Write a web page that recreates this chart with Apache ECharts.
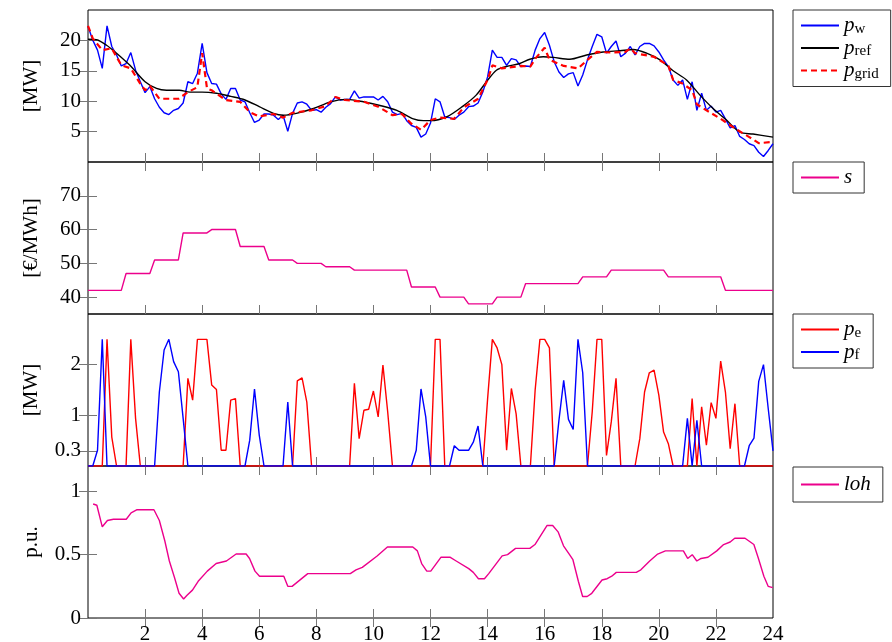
<!DOCTYPE html>
<html><head><meta charset="utf-8">
<script src="https://cdn.jsdelivr.net/npm/echarts@6/dist/echarts.min.js"></script>
<style>html,body{margin:0;padding:0;background:#fff}#c{width:892px;height:642px}</style>
</head><body><div id="c"></div>
<script>
// ---------- data ----------
const xTickLabels = [2,4,6,8,10,12,14,16,18,20,22,24];
// 10-minute grid values (t = i/6 h, i = 0..144)
const pw = [22.3,20.05,18.4,15.4,22.4,19.0,17.6,15.8,16.2,18.0,
 15.1,13.2,11.4,12.4,10.4,9.0,8.1,7.8,8.5,8.8,
 9.7,13.2,12.9,14.6,19.5,14.7,12.9,12.8,11.2,10.3,
 12.1,12.1,10.2,9.9,8.1,6.5,6.9,7.9,7.9,7.7,
 7.0,7.7,5.05,8.0,9.7,9.9,9.5,8.5,8.6,8.2,
 9.0,9.6,10.7,10.2,10.3,10.3,11.7,10.5,10.7,10.7,
 10.7,10.2,10.8,9.9,8.2,7.8,8.0,6.8,6.0,5.7,
 4.1,4.6,6.4,10.4,9.9,7.4,7.3,7.0,7.7,8.2,
 9.1,9.2,9.7,11.5,14.0,18.4,17.2,17.2,15.9,17.0,
 16.8,15.7,15.8,15.7,18.4,20.3,21.3,19.2,16.5,14.8,
 13.9,14.5,14.7,12.5,14.3,16.8,19.0,21.0,20.6,17.9,
 19.0,19.9,17.3,17.9,19.0,17.6,19.0,19.5,19.5,19.1,
 18.1,16.8,15.7,13.5,12.6,13.5,10.3,13.2,8.5,11.3,
 8.5,9.2,8.2,8.5,7.1,5.6,6.0,4.2,3.7,3.0,
 2.7,1.6,0.9,1.9,3.0];
const prefT = [0,0.3,0.65,1.0,1.47,2.0,2.4,2.75,3.2,3.57,4.0,4.5,5.0,5.5,6.0,6.5,6.85,7.3,7.9,8.5,9.07,9.65,10.23,10.82,11.4,11.75,12.0,12.56,13.14,13.6,13.96,14.31,14.66,15.13,15.48,15.95,16.3,16.88,17.47,18.05,18.64,19.1,19.57,20.04,20.5,20.97,21.44,21.9,22.37,22.84,23.3,24];
const prefV = [20.2,20.1,19.2,17.9,15.9,13.2,12.1,11.8,11.8,11.5,11.5,11.3,10.8,10.2,9.1,8.0,7.7,8.0,8.8,9.9,10.3,9.9,9.3,8.5,7.1,6.8,6.8,7.4,9.2,11.0,13.2,15.1,15.7,16.2,16.9,17.3,17.2,16.9,17.6,18.1,18.3,18.5,17.9,16.8,15.0,13.5,11.0,8.8,6.9,4.9,4.6,4.1];
const pgridT = [0,0.17,0.5,0.83,1.17,1.5,1.83,2.0,2.17,2.5,3.17,3.5,3.83,4.0,4.17,4.33,4.83,5.33,5.67,6.0,6.5,6.83,7.17,7.83,8.33,8.67,9.0,9.67,10.17,10.67,11.0,11.33,11.67,12.0,12.33,12.83,13.17,13.67,14.0,14.17,14.5,15.17,15.5,15.67,16.0,16.17,16.67,17.17,17.5,17.83,18.33,18.83,19.0,19.17,19.83,20.33,20.5,20.83,21.17,21.33,21.67,22.17,22.67,23.17,23.5,24];
const pgridV = [22.4,20.3,18.4,18.7,15.9,15.4,12.9,11.8,12.5,10.4,10.4,11.5,12.3,17.9,12.1,11.8,10.2,9.9,8.2,7.5,7.9,7.3,8.1,8.5,9.2,10.7,10.2,9.9,9.1,7.7,7.9,6.3,5.3,6.9,7.3,7.1,9.0,10.4,13.5,15.9,15.4,15.8,15.7,17.0,18.8,16.8,15.8,15.4,16.8,18.1,18.0,18.1,18.7,17.9,17.3,15.9,13.5,12.9,11.8,9.5,8.5,7.1,5.5,4.1,3.1,3.3];
// hourly price levels
const sPrice = [42,47,51,59,60,55,51,50,49,48,48,43,40,38,40,44,44,46,48,48,46,46,42,42];
// 10-minute grid values
const pe = [0,0,0,0,2.5,0.57,0,0,0,2.5,0.94,0,
 0,0,0,0,0,0,0,0,0,1.73,1.3,2.5,
 2.5,2.5,1.6,1.51,0.31,0.31,1.3,1.33,0,0,0,0,
 0,0,0,0,0,0,0,0,1.68,1.74,1.26,0,
 0,0,0,0,0,0,0,0,1.63,0.54,1.1,1.12,
 1.48,0.97,1.99,1.07,0,0,0,0,0,0,0,0,
 0,2.5,2.5,0,0,0,0,0,0,0,0,0,
 1.32,2.5,2.33,2.0,0.31,1.53,1.03,0,0,0,1.5,2.5,
 2.5,2.33,0,0,0,0,0,0,0,0,1.07,2.5,
 2.5,0.21,0.87,1.73,0,0,0,0,0.54,1.46,1.84,1.89,
 1.4,0.67,0.44,0,0,0,0,1.33,0,1.17,0.41,1.25,
 0.94,2.07,1.46,0.34,1.23,0,0,0,0,0,0,0,
 0];
const pf = [0,0,0.31,2.5,0,0,0,0,0,0,0,0,
 0,0,0,1.46,2.29,2.5,2.06,1.86,0.94,0,0,0,
 0,0,0,0,0,0,0,0,0,0,0.51,1.52,
 0.61,0,0,0,0,0,1.26,0,0,0,0,0,
 0,0,0,0,0,0,0,0,0,0,0,0,
 0,0,0,0,0,0,0,0,0,0.31,1.52,0.97,
 0,0,0,0,0,0.4,0.31,0.31,0.31,0.47,0.79,0,
 0,0,0,0,0,0,0,0,0,0,0,0,
 0,0,0,0.9,1.69,0.92,0.72,2.5,1.84,0,0,0,
 0,0,0,0,0,0,0,0,0,0,0,0,
 0,0,0,0,0,0,0.94,0,0.9,0,0,0,
 0,0,0,0,0,0,0,0.4,0.55,1.67,2.0,1.13,
 0.3];
const lohT = [0.18,0.31,0.5,0.68,0.89,1.34,1.51,1.72,2.31,2.5,2.69,2.85,3.03,3.19,3.35,3.47,3.66,3.86,4.18,4.49,4.85,5.19,5.54,5.66,5.85,6.01,6.86,7.0,7.15,7.7,9.19,9.39,9.61,10.13,10.49,11.38,11.54,11.69,11.87,12.01,12.37,12.68,12.9,13.34,13.5,13.68,13.89,14.04,14.51,14.7,14.98,15.48,15.66,16.08,16.28,16.47,16.66,16.86,16.99,17.18,17.33,17.49,17.65,18.01,18.19,18.35,18.51,19.21,19.37,19.68,19.96,20.23,20.86,21.01,21.17,21.33,21.48,21.72,22.03,22.27,22.5,22.66,23.02,23.33,23.49,23.68,23.83,23.99];
const lohV = [0.9,0.89,0.72,0.77,0.78,0.78,0.83,0.855,0.855,0.77,0.61,0.45,0.32,0.195,0.15,0.18,0.22,0.29,0.37,0.43,0.45,0.505,0.505,0.47,0.37,0.33,0.33,0.25,0.25,0.35,0.35,0.38,0.4,0.49,0.56,0.56,0.53,0.43,0.37,0.37,0.48,0.48,0.45,0.39,0.36,0.31,0.31,0.35,0.49,0.5,0.55,0.55,0.58,0.73,0.73,0.68,0.57,0.505,0.46,0.29,0.17,0.17,0.195,0.3,0.31,0.33,0.36,0.36,0.38,0.45,0.505,0.53,0.53,0.47,0.5,0.45,0.47,0.48,0.53,0.58,0.6,0.63,0.63,0.58,0.47,0.33,0.25,0.24];

// ---------- build ----------
const zip = (t, v) => t.map((x, i) => [x, v[i]]);
const grid10 = arr => arr.map((v, i) => [i / 6, v]);
const sData = [[0, sPrice[0]]];
for (let k = 1; k < sPrice.length; k++) {
  sData.push([k + 1/6, sPrice[k-1]], [k + 2/6, sPrice[k]]);
}
sData.push([24, sPrice[sPrice.length - 1]]);

const FONT = 'Liberation Serif';
const tops = [10, 162, 314, 466];
const H = 152;
const grids = tops.map(t => ({left: 88, top: t, width: 685, height: H, show: true,
  outerBoundsMode: 'none', containLabel: false,
  borderColor: '#000', borderWidth: 1, backgroundColor: 'transparent'}));

const tick = {show: true, inside: true, length: 9, lineStyle: {color: '#777', width: 1}};
const xAxes = [];
const yAxes = [];
const yCfg = [
  {min: 0, max: 25, vals: [5,10,15,20], name: '[MW]'},
  {min: 35, max: 80, vals: [40,50,60,70], name: '[€/MWh]'},
  {min: 0, max: 3, vals: [0.3,1,2], name: '[MW]'},
  {min: 0, max: 1.2, vals: [0,0.5,1], name: 'p.u.'}
];
for (let g = 0; g < 4; g++) {
  xAxes.push({type: 'value', gridIndex: g, position: 'bottom', min: 0, max: 24, interval: 2,
    axisLine: {show: false}, splitLine: {show: false},
    axisTick: Object.assign({}, tick, {customValues: xTickLabels.slice(0, -1)}),
    axisLabel: {show: g === 3, customValues: xTickLabels, margin: 6,
      fontFamily: FONT, fontSize: 21, color: '#000'}});
  xAxes.push({type: 'value', gridIndex: g, position: 'top', min: 0, max: 24, interval: 2,
    axisLine: {show: false}, splitLine: {show: false},
    axisTick: Object.assign({}, tick, {customValues: xTickLabels.slice(0, -1)}),
    axisLabel: {show: false}});
  const c = yCfg[g];
  yAxes.push({type: 'value', gridIndex: g, position: 'left', min: c.min, max: c.max,
    axisLine: {show: false}, splitLine: {show: false},
    axisTick: Object.assign({}, tick, {customValues: c.vals}),
    axisLabel: {customValues: c.vals, margin: 7, fontFamily: FONT, fontSize: 21, color: '#000'},
    name: c.name, nameLocation: 'middle', nameRotate: 90, nameGap: 46,
    nameTextStyle: {fontFamily: FONT, fontSize: 21, color: '#000'}});
  yAxes.push({type: 'value', gridIndex: g, position: 'right', min: c.min, max: c.max,
    axisLine: {show: false}, splitLine: {show: false},
    axisTick: Object.assign({}, tick, {customValues: c.vals}),
    axisLabel: {show: false}});
}

const line = (name, g, data, color, width, extra) => Object.assign({
  name, type: 'line', xAxisIndex: 2 * g, yAxisIndex: 2 * g, data,
  symbol: 'none', showSymbol: false, animation: false,
  lineStyle: {color, width}, itemStyle: {color}
}, extra || {});

const series = [
  line('p_w', 0, grid10(pw), '#0000ff', 1.4),
  line('p_ref', 0, zip(prefT, prefV), '#000000', 1.4, {smooth: 0.3}),
  line('p_grid', 0, zip(pgridT, pgridV), '#ff0000', 2.2, {lineStyle: {color: '#ff0000', width: 2.2, type: [6, 4]}}),
  line('s', 1, sData, '#ec008c', 1.4),
  line('p_e', 2, grid10(pe), '#ff0000', 1.4),
  line('p_f', 2, grid10(pf), '#0000ff', 1.4),
  line('loh', 3, zip(lohT, lohV), '#ec008c', 1.4)
];

const labelMap = {
  p_w: '{i|p}{b|w}', p_ref: '{i|p}{b|ref}', p_grid: '{i|p}{b|grid}',
  s: '{i|s}', p_e: '{i|p}{b|e}', p_f: '{i|p}{b|f}', loh: '{i|loh}'
};
const legendBase = {
  orient: 'vertical', left: 793, itemWidth: 38, itemHeight: 14, itemGap: 1,
  padding: [5, 12, 5, 7], borderColor: '#333', borderWidth: 1, backgroundColor: '#fff',
  itemStyle: {opacity: 0, borderWidth: 0},
  formatter: n => labelMap[n],
  textStyle: {padding: [0, 0, 0, 0], rich: {
    i: {fontFamily: FONT, fontStyle: 'italic', fontSize: 21, lineHeight: 22, color: '#000'},
    b: {fontFamily: FONT, fontSize: 15, lineHeight: 12, verticalAlign: 'bottom', color: '#000'}
  }}
};
const legends = [
  Object.assign({}, legendBase, {top: 10, data: ['p_w', 'p_ref', 'p_grid']}),
  Object.assign({}, legendBase, {top: 162, data: ['s']}),
  Object.assign({}, legendBase, {top: 314, data: ['p_e', 'p_f']}),
  Object.assign({}, legendBase, {top: 467, padding: [7, 12, 7, 7], data: ['loh']})
];

const chart = echarts.init(document.getElementById('c'), null, {renderer: 'canvas'});
chart.setOption({
  animation: false,
  backgroundColor: '#fff',
  grid: grids, xAxis: xAxes, yAxis: yAxes, legend: legends, series
});
</script></body></html>
